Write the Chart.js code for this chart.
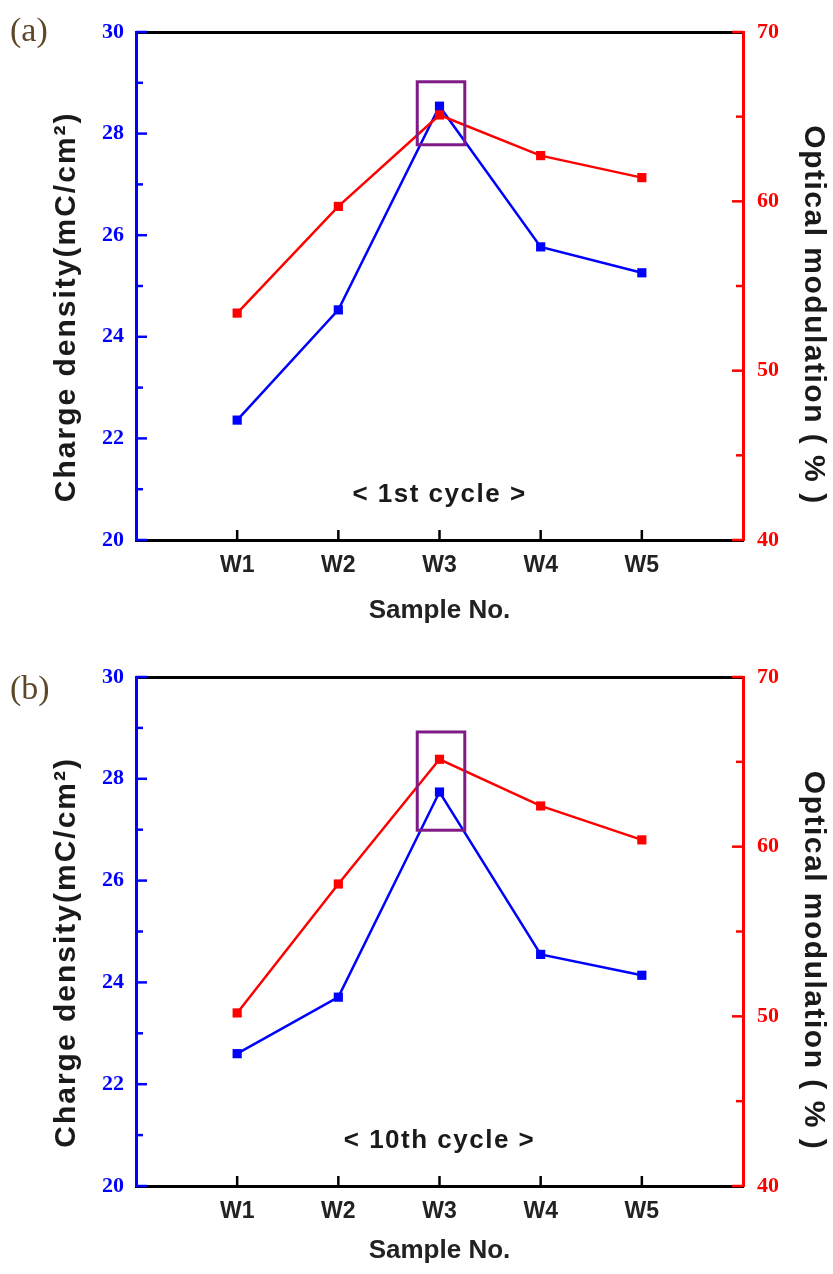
<!DOCTYPE html>
<html>
<head>
<meta charset="utf-8">
<script src="https://cdn.jsdelivr.net/npm/chart.js@4.4.0/dist/chart.umd.min.js"></script>
<style>
  html, body { margin: 0; padding: 0; background: #fff; }
  canvas { display: block; }
</style>
</head>
<body>
<canvas id="chartA" width="833" height="637"></canvas>
<canvas id="chartB" width="833" height="637"></canvas>
<script>
// --- data ---
const samples = ['W1', 'W2', 'W3', 'W4', 'W5'];

const chargeCycle1 = [22.36, 24.53, 28.54, 25.77, 25.26];
const opticalCycle1 = [53.4, 59.7, 65.1, 62.7, 61.4];

const chargeCycle10 = [22.6, 23.71, 27.74, 24.55, 24.14];
const opticalCycle10 = [50.2, 57.8, 65.15, 62.4, 60.4];

// highlight box around W3 (sample index units / charge density units)
const boxX = [2.78, 3.25];
const boxCycle1 = [27.78, 29.02];
const boxCycle10 = [26.99, 28.92];

const BLUE = '#0000ff';
const RED = '#ff0000';
const SANS = 'Liberation Sans, Arial, sans-serif';
const SERIF = 'Liberation Serif, Times New Roman, serif';

// inward ticks, highlight box, panel letters and rotated titles
const panelDecor = {
  id: 'panelDecor',
  afterDatasetsDraw(chart, args, opts) {
    const { ctx, chartArea: area, scales } = chart;
    const { x, y, y1 } = scales;
    ctx.save();
    ctx.lineWidth = 2.5;

    ctx.strokeStyle = BLUE;
    for (let v = y.min; v <= y.max; v += 1) {
      const py = y.getPixelForValue(v);
      const len = v % 2 === 0 ? 11 : 7;
      ctx.beginPath(); ctx.moveTo(area.left, py); ctx.lineTo(area.left + len, py); ctx.stroke();
    }

    ctx.strokeStyle = RED;
    for (let v = y1.min; v <= y1.max; v += 5) {
      const py = y1.getPixelForValue(v);
      const len = v % 10 === 0 ? 11 : 7;
      ctx.beginPath(); ctx.moveTo(area.right, py); ctx.lineTo(area.right - len, py); ctx.stroke();
    }

    ctx.strokeStyle = '#000';
    samples.forEach((s, i) => {
      const px = x.getPixelForValue(i + 1);
      ctx.beginPath(); ctx.moveTo(px, area.bottom); ctx.lineTo(px, area.bottom - 10); ctx.stroke();
    });

    // purple highlight box
    const bx0 = x.getPixelForValue(opts.boxX[0]);
    const bx1 = x.getPixelForValue(opts.boxX[1]);
    const by0 = y.getPixelForValue(opts.boxY[1]);
    const by1 = y.getPixelForValue(opts.boxY[0]);
    ctx.strokeStyle = '#7f1a86';
    ctx.lineWidth = 3;
    ctx.strokeRect(bx0, by0, bx1 - bx0, by1 - by0);
    ctx.restore();
  },
  afterDraw(chart, args, opts) {
    const { ctx, chartArea: area, scales } = chart;
    ctx.save();

    // panel letter
    ctx.fillStyle = '#5e4628';
    ctx.font = '34px ' + SERIF;
    ctx.textAlign = 'left';
    ctx.textBaseline = 'middle';
    ctx.fillText(opts.letter, 10, opts.letterY);

    // cycle label
    ctx.fillStyle = '#1a1a1a';
    ctx.letterSpacing = '1.5px';
    ctx.font = 'bold 26px ' + SANS;
    ctx.textAlign = 'center';
    ctx.fillText(opts.cycle, scales.x.getPixelForValue(3), area.bottom - 45);

    // left title
    ctx.letterSpacing = '2px';
    ctx.font = 'bold 30px ' + SANS;
    ctx.save();
    ctx.translate(67, area.top + area.height * 0.541);
    ctx.rotate(-Math.PI / 2);
    ctx.fillText('Charge density(mC/cm\u00B2)', 0, 0);
    ctx.restore();

    // right title
    ctx.letterSpacing = '1.5px';
    ctx.save();
    ctx.translate(813, area.top + area.height * 0.557);
    ctx.rotate(Math.PI / 2);
    ctx.fillText('Optical modulation ( % )', 0, 0);
    ctx.restore();

    ctx.restore();
  }
};

function toPoints(values) {
  return values.map((v, i) => ({ x: i + 1, y: v }));
}

function makePanel(id, cfg) {
  const H = 637;
  new Chart(document.getElementById(id), {
    type: 'line',
    data: {
      datasets: [
        {
          label: 'Optical modulation',
          data: toPoints(cfg.optical),
          yAxisID: 'y1',
          borderColor: RED,
          backgroundColor: RED,
          borderWidth: 2.5,
          pointStyle: 'rect',
          pointRadius: 6.5,
          pointBorderWidth: 0,
          tension: 0
        },
        {
          label: 'Charge density',
          data: toPoints(cfg.charge),
          yAxisID: 'y',
          borderColor: BLUE,
          backgroundColor: BLUE,
          borderWidth: 2.5,
          pointStyle: 'rect',
          pointRadius: 6.5,
          pointBorderWidth: 0,
          tension: 0
        }
      ]
    },
    options: {
      responsive: false,
      animation: false,
      layout: { padding: 0 },
      plugins: {
        legend: { display: false },
        tooltip: { enabled: false },
        panelDecor: { letter: cfg.letter, letterY: cfg.letterY, cycle: cfg.cycle, boxX: boxX, boxY: cfg.box }
      },
      scales: {
        x: {
          type: 'linear',
          position: 'bottom',
          min: 0,
          max: 6,
          afterFit: s => { s.height = H - cfg.bottom; },
          grid: { display: false, drawTicks: false },
          border: { color: '#000', width: 3 },
          ticks: {
            stepSize: 1,
            autoSkip: false,
            maxRotation: 0,
            padding: 12,
            color: '#222',
            font: { family: SANS, size: 23, weight: 'bold' },
            callback: v => samples[v - 1] || ''
          },
          title: {
            display: true,
            text: 'Sample No.',
            color: '#222',
            font: { family: SANS, size: 26, weight: 'bold' },
            padding: { top: 0, bottom: cfg.titlePad }
          }
        },
        top: {
          type: 'linear',
          position: 'top',
          min: 0,
          max: 6,
          afterFit: s => { s.height = cfg.top; },
          grid: { display: false, drawTicks: false },
          border: { color: '#000', width: 3 },
          ticks: { display: false }
        },
        y: {
          position: 'left',
          min: 20,
          max: 30,
          afterFit: s => { s.width = 136; },
          grid: { display: false, drawTicks: false },
          border: { color: BLUE, width: 3 },
          ticks: {
            stepSize: 2,
            padding: 12,
            color: BLUE,
            font: { family: SERIF, size: 22, weight: 'bold' }
          }
        },
        y1: {
          position: 'right',
          min: 40,
          max: 70,
          afterFit: s => { s.width = 833 - 743; },
          grid: { display: false, drawTicks: false },
          border: { color: RED, width: 3 },
          ticks: {
            stepSize: 10,
            padding: 14,
            color: RED,
            font: { family: SERIF, size: 22, weight: 'bold' }
          }
        }
      }
    },
    plugins: [panelDecor]
  });
}

makePanel('chartA', {
  charge: chargeCycle1,
  optical: opticalCycle1,
  box: boxCycle1,
  letter: '(a)',
  letterY: 32,
  cycle: '< 1st cycle >',
  top: 32,
  bottom: 540,
  titlePad: 11
});

makePanel('chartB', {
  charge: chargeCycle10,
  optical: opticalCycle10,
  box: boxCycle10,
  letter: '(b)',
  letterY: 53,
  cycle: '< 10th cycle >',
  top: 40,
  bottom: 549,
  titlePad: 8
});
</script>
</body>
</html>
